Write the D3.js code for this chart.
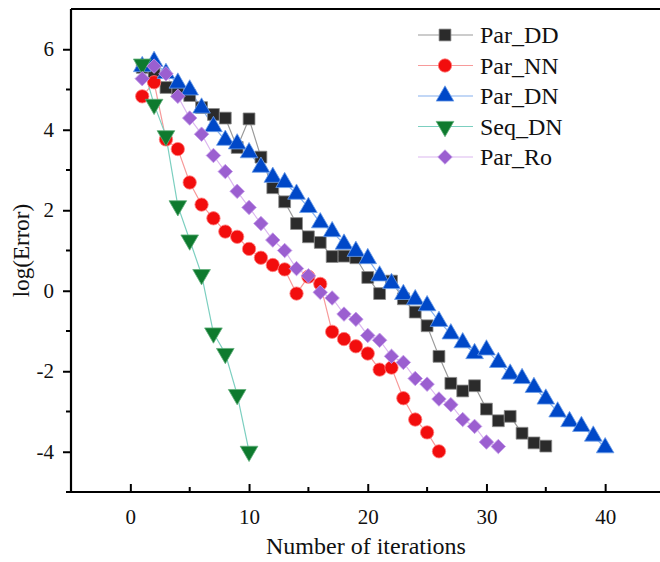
<!DOCTYPE html>
<html><head><meta charset="utf-8">
<script src="https://cdn.jsdelivr.net/npm/d3@7"></script>
<style>body{margin:0;background:#fff;}svg{display:block;}</style>
</head><body>
<svg id="c" width="660" height="562"></svg>
<script>
const xTicks = [0, 10, 20, 30, 40];
const yTicks = [-4, -2, 0, 2, 4, 6];
const seriesNames = ["Par_DD", "Par_NN", "Par_DN", "Seq_DN", "Par_Ro"];
const parDD = [5.55, 5.4, 5.05, 4.95, 4.85, 4.55, 4.38, 4.29, 3.56, 4.27, 3.32, 2.56, 2.21, 1.67, 1.34, 1.2, 0.85, 0.86, 0.82, 0.33, -0.07, 0.24, -0.2, -0.53, -0.87, -1.63, -2.3, -2.49, -2.36, -2.94, -3.23, -3.12, -3.54, -3.78, -3.86];
const parNN = [4.83, 5.18, 3.76, 3.52, 2.69, 2.14, 1.8, 1.47, 1.34, 1.04, 0.82, 0.64, 0.53, -0.07, 0.35, 0.17, -1.02, -1.2, -1.38, -1.56, -1.96, -1.91, -2.67, -3.2, -3.52, -3.99];
const parDN = [5.57, 5.7, 5.4, 5.16, 4.99, 4.54, 4.08, 3.74, 3.65, 3.43, 3.07, 2.82, 2.69, 2.4, 2.07, 1.69, 1.47, 1.16, 0.98, 0.8, 0.37, 0.18, -0.09, -0.22, -0.37, -0.76, -1.07, -1.29, -1.56, -1.47, -1.78, -2.07, -2.18, -2.4, -2.69, -3.01, -3.25, -3.37, -3.61, -3.9];
const seqDN = [5.63, 4.63, 3.85, 2.11, 1.26, 0.4, -1.05, -1.56, -2.58, -3.99];
const parRo = [5.27, 5.58, 5.39, 4.83, 4.29, 3.89, 3.36, 2.96, 2.47, 2.07, 1.67, 1.26, 1.0, 0.55, 0.37, -0.04, -0.18, -0.58, -0.71, -1.11, -1.23, -1.63, -1.78, -2.18, -2.32, -2.69, -2.83, -3.2, -3.37, -3.76, -3.87];

const styles = [
  {fill:"#2b2b2b", stroke:"#8a8a8a", line:"#9a9a9a", sym:d3.symbolSquare, size:140, rot:0},
  {fill:"#f20d0d", stroke:"#ff8080", line:"#f79a9a", sym:d3.symbolCircle, size:140, rot:0},
  {fill:"#0048c8", stroke:"#6f9fe8", line:"#86b0ee", sym:d3.symbolTriangle, size:135, rot:0},
  {fill:"#0e7a2e", stroke:"#5fae7a", line:"#7ccfc0", sym:d3.symbolTriangle, size:135, rot:180},
  {fill:"#9b5fd0", stroke:"#c39be8", line:"#dcb8f0", sym:d3.symbolSquare, size:105, rot:45}
];
const data = [parDD, parNN, parDN, seqDN, parRo];

const svg = d3.select("#c");
const ml = 71, mt = 9, mb = 492;
const x = d3.scaleLinear().domain([-5, 45]).range([ml, ml + 50 * 11.87]);
const y = d3.scaleLinear().domain([-5, 7]).range([mb, mt]);
const font = "'Liberation Serif','Times New Roman',serif";
const fmt = d => String(d);

const line = d3.line().x(d => x(d[0])).y(d => y(d[1]));
data.forEach((vals, i) => {
  const pts = vals.map((v, j) => [j + 1, v]);
  const s = styles[i];
  svg.append("path").attr("d", line(pts)).attr("fill", "none")
    .attr("stroke", s.line).attr("stroke-width", 1.2);
});
data.forEach((vals, i) => {
  const pts = vals.map((v, j) => [j + 1, v]);
  const s = styles[i];
  const sym = d3.symbol().type(s.sym).size(s.size);
  svg.append("g").selectAll("path").data(pts).join("path")
    .attr("d", sym)
    .attr("transform", d => `translate(${x(d[0])},${y(d[1])}) rotate(${s.rot})`)
    .attr("fill", s.fill).attr("stroke", s.stroke).attr("stroke-width", 0.8);
});

const ax = svg.append("g").attr("stroke", "#000");
ax.append("line").attr("x1", ml).attr("x2", 660).attr("y1", mb).attr("y2", mb).attr("stroke-width", 2.2);
ax.append("line").attr("x1", ml).attr("x2", 660).attr("y1", mt).attr("y2", mt).attr("stroke-width", 2.2);
ax.append("line").attr("x1", ml).attr("x2", ml).attr("y1", mt).attr("y2", mb).attr("stroke-width", 2.2);

const xAxis = d3.axisBottom(x).tickValues(xTicks).tickSize(-8).tickPadding(17).tickFormat(fmt);
const gx = svg.append("g").attr("transform", `translate(0,${mb})`).call(xAxis);
gx.select(".domain").remove();
gx.selectAll("line").attr("stroke-width", 2);
gx.selectAll("text").attr("font-family", font).attr("font-size", 21).attr("fill", "#111");
const xMinor = [5, 15, 25, 35];
svg.append("g").selectAll("line").data(xMinor).join("line")
  .attr("x1", d => x(d)).attr("x2", d => x(d)).attr("y1", mb).attr("y2", mb - 5)
  .attr("stroke", "#000").attr("stroke-width", 2);

const yAxis = d3.axisLeft(y).tickValues(yTicks).tickSize(8).tickPadding(9).tickFormat(fmt);
const gy = svg.append("g").attr("transform", `translate(${ml},0)`).call(yAxis);
gy.select(".domain").remove();
gy.selectAll("line").attr("stroke-width", 2);
gy.selectAll("text").attr("font-family", font).attr("font-size", 21).attr("fill", "#111");
const yMinor = [-5, -3, -1, 1, 3, 5];
svg.append("g").selectAll("line").data(yMinor).join("line")
  .attr("x1", ml).attr("x2", ml - 5).attr("y1", d => y(d)).attr("y2", d => y(d))
  .attr("stroke", "#000").attr("stroke-width", 2);

svg.append("text").attr("x", 366).attr("y", 554).attr("text-anchor", "middle")
  .attr("font-family", font).attr("font-size", 24).attr("fill", "#111").text("Number of iterations");
svg.append("text").attr("transform", `translate(29,${(mt + mb) / 2}) rotate(-90)`).attr("text-anchor", "middle")
  .attr("font-family", font).attr("font-size", 23).attr("fill", "#111").text("log(Error)");

const lg = svg.append("g");
seriesNames.forEach((name, i) => {
  const s = styles[i];
  const cy = 35 + i * 30.5;
  lg.append("line").attr("x1", 418).attr("x2", 473).attr("y1", cy).attr("y2", cy)
    .attr("stroke", s.line).attr("stroke-width", 1.2);
  lg.append("path").attr("d", d3.symbol().type(s.sym).size(s.size)())
    .attr("transform", `translate(445,${cy}) rotate(${s.rot})`)
    .attr("fill", s.fill).attr("stroke", s.stroke).attr("stroke-width", 0.8);
  lg.append("text").attr("x", 480).attr("y", cy + 8).attr("font-family", font)
    .attr("font-size", 24).attr("fill", "#111").text(name);
});
</script>
</body></html>
